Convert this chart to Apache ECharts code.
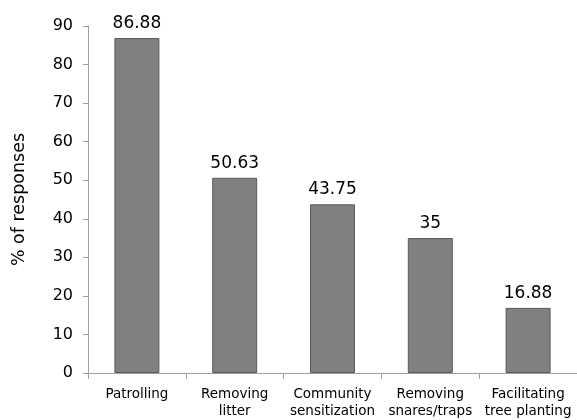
<!DOCTYPE html>
<html>
<head>
<meta charset="utf-8">
<script src="https://cdn.jsdelivr.net/npm/echarts@6/dist/echarts.min.js"></script>
<style>
  html, body { margin: 0; padding: 0; background: #fff; }
  #chart { width: 577px; height: 420px; }
</style>
</head>
<body>
<div id="chart"></div>
<script>
// Conservation activities and the share of responses for each
const categories = ['Patrolling', 'Removing\nlitter', 'Community\nsensitization', 'Removing\nsnares/traps', 'Facilitating\ntree planting'];
const responses = [86.88, 50.63, 43.75, 35, 16.88];
const yTicks = [0, 10, 20, 30, 40, 50, 60, 70, 80, 90];

const FONT = '"DejaVu Sans", Verdana, sans-serif';
const chart = echarts.init(document.getElementById('chart'), null, { renderer: 'canvas' });

chart.setOption({
  animation: false,
  grid: { left: 88, right: -1, top: 26, bottom: 44, containLabel: false },
  xAxis: {
    type: 'category',
    data: categories,
    axisLine: { lineStyle: { color: '#a0a0a0', width: 1 } },
    axisTick: { show: true, alignWithLabel: false, length: 6, lineStyle: { color: '#a0a0a0' } },
    axisLabel: {
      color: '#000', fontFamily: FONT, fontSize: 13.5, margin: 13, lineHeight: 17, interval: 0
    }
  },
  yAxis: {
    type: 'value',
    min: yTicks[0],
    max: yTicks[yTicks.length - 1],
    interval: 10,
    name: '% of responses',
    nameLocation: 'middle',
    nameGap: 60,
    nameTextStyle: { color: '#000', fontFamily: FONT, fontSize: 17.5 },
    axisLine: { show: true, lineStyle: { color: '#a0a0a0', width: 1 } },
    axisTick: { show: true, length: 5, lineStyle: { color: '#a0a0a0' } },
    splitLine: { show: false },
    axisLabel: { color: '#000', fontFamily: FONT, fontSize: 16, margin: 15 }
  },
  series: [{
    type: 'bar',
    data: responses,
    barWidth: 45,
    itemStyle: { color: '#808080', borderColor: '#5a5a5a', borderWidth: 1 },
    label: {
      show: true, position: 'top', distance: 6,
      color: '#000', fontFamily: FONT, fontSize: 17
    }
  }]
});
</script>
</body>
</html>
